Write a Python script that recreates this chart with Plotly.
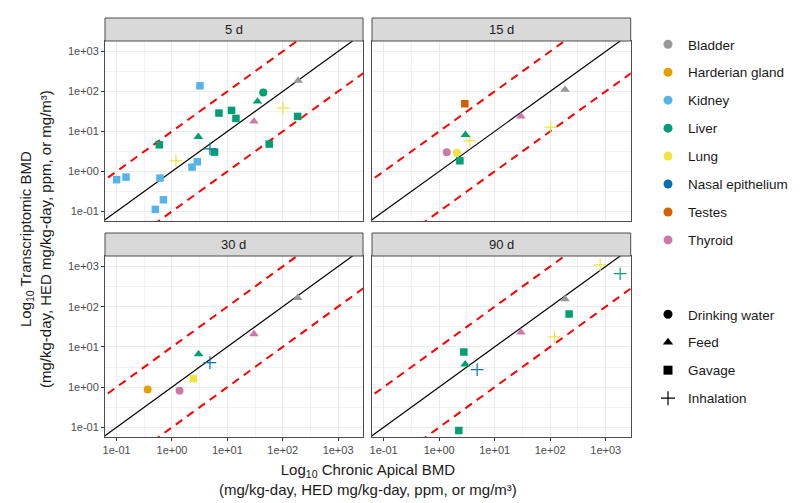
import numpy as np
import plotly.graph_objects as go

# ---------------- data ----------------
organs = ["Bladder", "Harderian gland", "Kidney", "Liver", "Lung",
          "Nasal epithelium", "Testes", "Thyroid"]
organ_colors = ["#999999", "#E69F00", "#56B4E9", "#009E73", "#F0E442",
                "#0072B2", "#D55E00", "#CC79A7"]
routes = ["Drinking water", "Feed", "Gavage", "Inhalation"]
route_symbols = ["circle", "triangle-up", "square", "cross-thin"]

panels = ["5 d", "15 d", "30 d", "90 d"]

d5_organ = ["Kidney", "Bladder", "Liver", "Liver", "Lung", "Liver", "Liver", "Liver",
            "Liver", "Thyroid", "Liver", "Liver", "Nasal epithelium", "Liver", "Liver",
            "Lung", "Kidney", "Kidney", "Kidney", "Kidney", "Kidney", "Kidney", "Kidney"]
d5_route = ["Gavage", "Feed", "Drinking water", "Feed", "Inhalation", "Gavage", "Gavage",
            "Gavage", "Gavage", "Feed", "Feed", "Gavage", "Inhalation", "Gavage", "Gavage",
            "Inhalation", "Gavage", "Gavage", "Gavage", "Gavage", "Gavage", "Gavage", "Gavage"]
d5_apical = [3.2, 190, 44.5, 35, 102, 186, 7.05, 11.9, 14.3, 30.2, 2.99, 0.59, 4.85, 5.87,
             57, 1.18, 2.86, 2.30, 0.10, 0.148, 0.607, 0.70, 0.50]
d5_transcript = [138, 186, 94, 56, 38, 23.7, 28.7, 33.5, 21.1, 17.8, 7.3, 4.62, 3.67, 3.04,
                 4.82, 1.84, 1.74, 1.28, 0.62, 0.72, 0.68, 0.195, 0.112]

d15_organ = ["Testes", "Bladder", "Thyroid", "Lung", "Liver", "Lung", "Thyroid", "Lung", "Liver"]
d15_route = ["Gavage", "Feed", "Feed", "Inhalation", "Feed", "Inhalation", "Drinking water",
             "Drinking water", "Gavage"]
d15_apical = [2.9, 185, 29.7, 102, 2.97, 3.56, 1.37, 2.08, 2.36]
d15_transcript = [49, 110, 23.7, 12.8, 8.2, 5.8, 2.99, 2.92, 1.84]

d30_organ = ["Bladder", "Thyroid", "Liver", "Nasal epithelium", "Lung", "Harderian gland", "Thyroid"]
d30_route = ["Feed", "Feed", "Feed", "Inhalation", "Gavage", "Drinking water", "Drinking water"]
d30_apical = [186, 30.2, 3.02, 4.85, 2.43, 0.363, 1.37]
d30_transcript = [166, 20.9, 6.6, 4.07, 1.62, 0.87, 0.81]

d90_organ = ["Lung", "Liver", "Bladder", "Liver", "Thyroid", "Lung", "Liver", "Liver",
             "Nasal epithelium", "Liver"]
d90_route = ["Inhalation", "Inhalation", "Feed", "Gavage", "Feed", "Inhalation", "Gavage",
             "Feed", "Inhalation", "Gavage"]
d90_apical = [794, 1820, 185, 219, 29.7, 119, 2.78, 2.94, 4.83, 2.26]
d90_transcript = [1096, 661, 155, 66, 22.9, 17.8, 7.5, 3.69, 2.71, 0.083]

ref_x = [0.001, 100000]          # range for reference lines
fold = 10                        # fold-change band

tick_vals = [0.1, 1, 10, 100, 1000]
tick_text = ["1e-01", "1e+00", "1e+01", "1e+02", "1e+03"]
minor_vals = [10 ** -1.5, 10 ** -0.5, 10 ** 0.5, 10 ** 1.5, 10 ** 2.5, 10 ** 3.5]

panel_data = [
    (d5_organ, d5_route, d5_apical, d5_transcript),
    (d15_organ, d15_route, d15_apical, d15_transcript),
    (d30_organ, d30_route, d30_apical, d30_transcript),
    (d90_organ, d90_route, d90_apical, d90_transcript),
]

# ---------------- layout geometry (pixels) ----------------
W, H = 806, 503
col_x = [(97, 355), (364, 622.7)]
row_y = [(33, 213), (248, 429)]
strip_h = 23

def px_x(v):
    return v / W

def px_y(v):
    return 1 - v / H

fig = go.Figure()

color_of = dict(zip(organs, organ_colors))
symbol_of = dict(zip(routes, route_symbols))

for i, (org, rt, ax_, ay_) in enumerate(panel_data):
    xa = "x" if i == 0 else f"x{i+1}"
    ya = "y" if i == 0 else f"y{i+1}"
    # reference lines
    fig.add_trace(go.Scatter(x=ref_x, y=[v * fold for v in ref_x], mode="lines",
                             line=dict(color="#FF0000", width=2, dash="8px,6px"),
                             xaxis=xa, yaxis=ya, showlegend=False, hoverinfo="skip"))
    fig.add_trace(go.Scatter(x=ref_x, y=[v / fold for v in ref_x], mode="lines",
                             line=dict(color="#FF0000", width=2, dash="8px,6px"),
                             xaxis=xa, yaxis=ya, showlegend=False, hoverinfo="skip"))
    fig.add_trace(go.Scatter(x=ref_x, y=ref_x, mode="lines",
                             line=dict(color="#000000", width=1.2),
                             xaxis=xa, yaxis=ya, showlegend=False, hoverinfo="skip"))
    # points grouped by organ/route
    combos = []
    for o, r in zip(org, rt):
        if (o, r) not in combos:
            combos.append((o, r))
    for o, r in combos:
        xs = [a for a, oo, rr in zip(ax_, org, rt) if oo == o and rr == r]
        ys = [t for t, oo, rr in zip(ay_, org, rt) if oo == o and rr == r]
        sym = symbol_of[r]
        if sym == "cross-thin":
            marker = dict(symbol=sym, size=9, color=color_of[o],
                          line=dict(color=color_of[o], width=1.2))
        else:
            size = {"circle": 8, "triangle-up": 8.5, "square": 7.5}[sym]
            marker = dict(symbol=sym, size=size, color=color_of[o], line=dict(width=0))
        fig.add_trace(go.Scatter(x=xs, y=ys, mode="markers", marker=marker,
                                 xaxis=xa, yaxis=ya, showlegend=False,
                                 name=f"{o} / {r}"))

# legend entries (colour)
for o, c in zip(organs, organ_colors):
    fig.add_trace(go.Scatter(x=[None], y=[None], mode="markers", name=o,
                             marker=dict(symbol="circle", size=9, color=c),
                             legend="legend", legendgroup=o, showlegend=True))
# legend entries (shape)
for r, s in zip(routes, route_symbols):
    if s == "cross-thin":
        mk = dict(symbol=s, size=10, color="black", line=dict(color="black", width=1.2))
    else:
        mk = dict(symbol=s, size=9, color="black")
    fig.add_trace(go.Scatter(x=[None], y=[None], mode="markers", name=r,
                             marker=mk, legend="legend2", legendgroup=r, showlegend=True))

axis_common = dict(type="log", showline=True, mirror=True, linecolor="#4D4D4D",
                   linewidth=1, showgrid=True, gridcolor="#EBEBEB", gridwidth=1.1,
                   zeroline=False, tickmode="array", tickvals=tick_vals,
                   ticktext=tick_text, tickfont=dict(size=11, color="#4D4D4D"),
                   automargin=False,
                   minor=dict(tickmode="array", tickvals=minor_vals, showgrid=True,
                              gridcolor="#F2F2F2", gridwidth=0.6, ticks=""))

xr = [-1.21, 3.45]
yr = [-1.24, 3.26]

layout = dict(width=W, height=H, margin=dict(l=0, r=0, t=0, b=0),
              paper_bgcolor="white", plot_bgcolor="white",
              font=dict(family="Liberation Sans, Arial, sans-serif", color="#1A1A1A"))

for i in range(4):
    r, c = divmod(i, 2)
    xk = "xaxis" if i == 0 else f"xaxis{i+1}"
    yk = "yaxis" if i == 0 else f"yaxis{i+1}"
    xa_anchor = "y" if i == 0 else f"y{i+1}"
    ya_anchor = "x" if i == 0 else f"x{i+1}"
    x0, x1 = col_x[c]
    y0, y1 = row_y[r]
    xd = dict(axis_common)
    xd.update(domain=[px_x(x0), px_x(x1)], range=xr, anchor=xa_anchor,
              showticklabels=(r == 1), ticks="outside" if r == 1 else "",
              ticklen=3, tickcolor="#333333")
    yd = dict(axis_common)
    yd.update(domain=[px_y(y1), px_y(y0)], range=yr, anchor=ya_anchor,
              showticklabels=(c == 0), ticks="outside" if c == 0 else "",
              ticklen=3, tickcolor="#333333")
    layout[xk] = xd
    layout[yk] = yd

shapes = []
annotations = []
for i, name in enumerate(panels):
    r, c = divmod(i, 2)
    x0, x1 = col_x[c]
    y0, _ = row_y[r]
    shapes.append(dict(type="rect", xref="paper", yref="paper",
                       x0=px_x(x0), x1=px_x(x1), y0=px_y(y0), y1=px_y(y0 - strip_h),
                       fillcolor="#D9D9D9", line=dict(color="#4D4D4D", width=1), layer="above"))
    annotations.append(dict(text=name, xref="paper", yref="paper",
                            x=px_x((x0 + x1) / 2), y=px_y(y0 - strip_h / 2),
                            showarrow=False, font=dict(size=13, color="#1A1A1A"),
                            xanchor="center", yanchor="middle"))

annotations.append(dict(
    text="Log<sub>10</sub> Transcriptomic BMD<br>(mg/kg-day, HED mg/kg-day, ppm, or mg/m³)",
    xref="paper", yref="paper", x=px_x(27), y=px_y(231), textangle=-90,
    showarrow=False, font=dict(size=15, color="#1A1A1A"), xanchor="center", yanchor="middle"))
annotations.append(dict(
    text="Log<sub>10</sub> Chronic Apical BMD<br>(mg/kg-day, HED mg/kg-day, ppm, or mg/m³)",
    xref="paper", yref="paper", x=px_x(360), y=px_y(471),
    showarrow=False, font=dict(size=15, color="#1A1A1A"), xanchor="center", yanchor="middle"))

layout["shapes"] = shapes
layout["annotations"] = annotations
layout["legend"] = dict(x=px_x(640), y=px_y(21), xanchor="left", yanchor="top",
                        font=dict(size=13.5, color="#1A1A1A"), tracegroupgap=7.4,
                        bgcolor="rgba(0,0,0,0)", itemclick=False)
layout["legend2"] = dict(x=px_x(640), y=px_y(291), xanchor="left", yanchor="top",
                         font=dict(size=13.5, color="#1A1A1A"), tracegroupgap=7.4,
                         bgcolor="rgba(0,0,0,0)", itemclick=False)

fig.update_layout(**layout)
fig.write_html("out.html")
